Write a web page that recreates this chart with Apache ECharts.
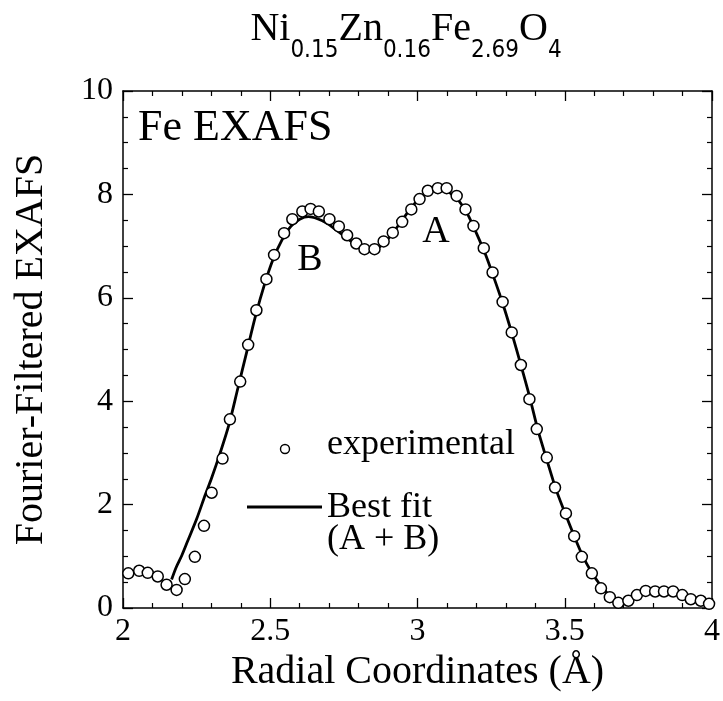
<!DOCTYPE html>
<html>
<head>
<meta charset="utf-8">
<script src="https://cdn.jsdelivr.net/npm/echarts@6/dist/echarts.min.js"></script>
<style>
  html, body { margin: 0; padding: 0; background: #ffffff; }
  #chart { width: 723px; height: 701px; }
</style>
</head>
<body>
<div id="chart"></div>
<script>
// Fourier-filtered Fe EXAFS of Ni0.15Zn0.16Fe2.69O4: measured points and two-shell fit

// experimental points: radial coordinate (Å) and filtered amplitude
var expR = [2.018, 2.055, 2.084, 2.118, 2.148, 2.182, 2.210, 2.244, 2.275, 2.301,
            2.338, 2.363, 2.398, 2.425, 2.453, 2.487, 2.513, 2.547, 2.575, 2.609,
            2.637, 2.665, 2.701, 2.733, 2.761, 2.792, 2.820, 2.854, 2.885, 2.916,
            2.948, 2.979, 3.007, 3.035, 3.069, 3.099, 3.133, 3.163, 3.190, 3.225,
            3.255, 3.289, 3.320, 3.351, 3.380, 3.405, 3.439, 3.467, 3.504, 3.532,
            3.558, 3.592, 3.623, 3.653, 3.682, 3.716, 3.745, 3.775, 3.807, 3.837,
            3.868, 3.899, 3.928, 3.962, 3.990];
var expChi = [0.67, 0.72, 0.68, 0.61, 0.45, 0.35, 0.56, 0.99, 1.59, 2.23,
              2.89, 3.65, 4.38, 5.09, 5.76, 6.36, 6.83, 7.25, 7.52, 7.67,
              7.72, 7.67, 7.52, 7.38, 7.21, 7.05, 6.94, 6.94, 7.09, 7.26,
              7.47, 7.71, 7.91, 8.07, 8.12, 8.12, 7.97, 7.71, 7.39, 6.96,
              6.49, 5.92, 5.33, 4.70, 4.04, 3.46, 2.91, 2.33, 1.83, 1.39,
              0.99, 0.67, 0.38, 0.21, 0.10, 0.14, 0.25, 0.33, 0.32, 0.32,
              0.32, 0.25, 0.17, 0.14, 0.08];

// best fit (A + B shells)
var fitR = [2.165, 2.18, 2.20, 2.22, 2.25, 2.28, 2.30, 2.33, 2.36, 2.39,
            2.42, 2.45, 2.48, 2.51, 2.54, 2.57, 2.60, 2.63, 2.66, 2.69,
            2.72, 2.75, 2.78, 2.81, 2.84, 2.87, 2.90, 2.93, 2.96, 2.99,
            3.02, 3.05, 3.08, 3.11, 3.14, 3.17, 3.20, 3.23, 3.26, 3.29,
            3.32, 3.35, 3.38, 3.41, 3.44, 3.47, 3.50, 3.53, 3.56, 3.59,
            3.62, 3.65];
var fitChi = [0.55, 0.78, 1.02, 1.30, 1.72, 2.20, 2.50, 3.00, 3.55, 4.25,
              4.95, 5.65, 6.25, 6.75, 7.12, 7.38, 7.52, 7.57, 7.53, 7.45,
              7.33, 7.20, 7.07, 6.97, 6.93, 6.98, 7.14, 7.36, 7.60, 7.82,
              7.98, 8.08, 8.10, 8.03, 7.88, 7.62, 7.25, 6.85, 6.38, 5.88,
              5.32, 4.72, 4.10, 3.42, 2.85, 2.30, 1.85, 1.42, 1.02, 0.70,
              0.45, 0.25];

// axis ranges and tick steps
var xRange = [2, 4], xStep = 0.5;
var yRange = [0, 10], yStep = 2;

var SERIF = '"Liberation Serif", "Times New Roman", serif';
var NARROW = '"DejaVu Sans Condensed", "Liberation Sans Narrow", sans-serif';

function zip(a, b) { return a.map(function (v, i) { return [v, b[i]]; }); }

function frameAxis(extra) {
  var base = {
    type: 'value',
    axisLine: { show: true, onZero: false, lineStyle: { color: '#000', width: 1.5 } },
    axisTick: { show: true, inside: true, length: 10, lineStyle: { color: '#000', width: 1.3 } },
    minorTick: { show: true, length: 5, lineStyle: { color: '#000', width: 1.2 } },
    splitLine: { show: false },
    minorSplitLine: { show: false },
    axisLabel: { show: false }
  };
  for (var k in extra) base[k] = extra[k];
  return base;
}

var chart = echarts.init(document.getElementById('chart'), null, { renderer: 'canvas' });

chart.setOption({
  backgroundColor: '#ffffff',
  animation: false,
  title: {
    left: 401,
    top: 16,
    textAlign: 'center',
    text: '{m|Ni}{s|0.15}{m|Zn}{s|0.16}{m|Fe}{s|2.69}{m|O}{s|4}',
    textStyle: {
      fontWeight: 'normal',
      rich: {
        m: { fontFamily: SERIF, fontSize: 40, fontWeight: 'normal', color: '#000', lineHeight: 42, padding: [0, 0, 14, 0], verticalAlign: 'bottom' },
        s: { fontFamily: NARROW, fontSize: 24, fontWeight: 'normal', color: '#000', lineHeight: 26, verticalAlign: 'bottom' }
      }
    }
  },
  grid: { left: 123, top: 91, width: 590, height: 517, containLabel: false },
  xAxis: [
    frameAxis({
      position: 'bottom', min: xRange[0], max: xRange[1], interval: xStep,
      minorTick: { show: true, splitNumber: 5, length: 5, lineStyle: { color: '#000', width: 1.2 } },
      axisLabel: { show: true, margin: 8, fontFamily: SERIF, fontSize: 32, color: '#000' },
      name: 'Radial Coordinates (Å)', nameLocation: 'middle', nameGap: 40,
      nameTextStyle: { fontFamily: SERIF, fontSize: 40, color: '#000' }
    }),
    frameAxis({
      position: 'top', min: xRange[0], max: xRange[1], interval: xStep,
      minorTick: { show: true, splitNumber: 5, length: 5, lineStyle: { color: '#000', width: 1.2 } }
    })
  ],
  yAxis: [
    frameAxis({
      position: 'left', min: yRange[0], max: yRange[1], interval: yStep,
      minorTick: { show: true, splitNumber: 4, length: 5, lineStyle: { color: '#000', width: 1.2 } },
      axisLabel: { show: true, margin: 10, fontFamily: SERIF, fontSize: 32, color: '#000' },
      name: 'Fourier-Filtered EXAFS', nameLocation: 'middle', nameGap: 72, nameRotate: 90,
      nameTextStyle: { fontFamily: SERIF, fontSize: 40, color: '#000' }
    }),
    frameAxis({
      position: 'right', min: yRange[0], max: yRange[1], interval: yStep,
      minorTick: { show: true, splitNumber: 4, length: 5, lineStyle: { color: '#000', width: 1.2 } }
    })
  ],
  series: [
    {
      name: 'Best fit (A + B)',
      type: 'line',
      data: zip(fitR, fitChi),
      showSymbol: false,
      smooth: 0.3,
      lineStyle: { color: '#000', width: 2.8 },
      z: 2
    },
    {
      name: 'experimental',
      type: 'scatter',
      data: zip(expR, expChi),
      symbol: 'circle',
      symbolSize: 11,
      itemStyle: { color: '#fff', borderColor: '#000', borderWidth: 1.5, opacity: 1 },
      z: 3
    }
  ],
  graphic: [
    { type: 'text', left: 138, top: 106, style: { text: 'Fe EXAFS', font: '44px ' + SERIF, fill: '#000' } },
    { type: 'text', x: 310, y: 260, style: { text: 'B', font: '38px ' + SERIF, fill: '#000', textAlign: 'center', textVerticalAlign: 'middle' } },
    { type: 'text', x: 436, y: 232, style: { text: 'A', font: '38px ' + SERIF, fill: '#000', textAlign: 'center', textVerticalAlign: 'middle' } },
    // legend
    { type: 'circle', shape: { cx: 285, cy: 449, r: 4.5 }, style: { fill: '#fff', stroke: '#000', lineWidth: 1.4 } },
    { type: 'text', x: 327, y: 445, style: { text: 'experimental', font: '36px ' + SERIF, fill: '#000', textVerticalAlign: 'middle' } },
    { type: 'line', shape: { x1: 247, y1: 507, x2: 322, y2: 507 }, style: { stroke: '#000', lineWidth: 3 } },
    { type: 'text', x: 327, y: 508, style: { text: 'Best fit', font: '36px ' + SERIF, fill: '#000', textVerticalAlign: 'middle' } },
    { type: 'text', x: 327, y: 540, style: { text: '(A + B)', font: '36px ' + SERIF, fill: '#000', textVerticalAlign: 'middle' } }
  ]
});
</script>
</body>
</html>
